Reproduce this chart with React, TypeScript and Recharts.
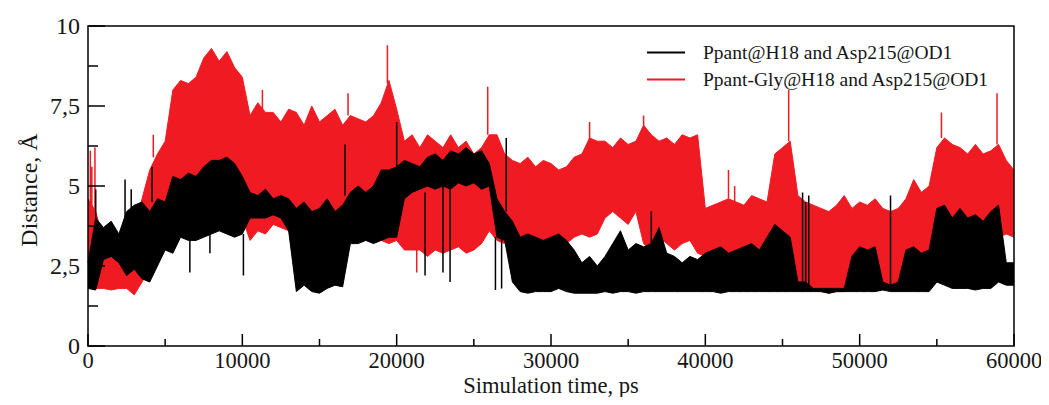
import React from 'react';
import { ComposedChart, Area, Line, XAxis, YAxis, ReferenceArea, Legend } from 'recharts';

// Core envelopes (min / max of the dense trace) read every 500 ps
const redLow = [
  1.8, 1.8, 1.8, 1.75, 1.8, 1.8, 1.6, 2.0, 2.4, 2.8,
  3.0, 3.6, 4.0, 4.2, 4.3, 4.2, 4.4, 4.3, 4.5, 4.2,
  4.0, 3.3, 3.6, 3.5, 3.8, 3.7, 3.6, 3.2, 3.3, 3.2,
  3.3, 3.1, 3.4, 3.1, 3.3, 3.5, 3.7, 3.4, 3.3, 3.2,
  3.3, 3.0, 3.0, 3.0, 2.8, 3.0, 2.9, 3.0, 3.1, 2.9,
  3.0, 3.2, 3.6, 3.3, 3.2, 3.3, 3.2, 3.3, 3.2, 3.3,
  3.2, 3.3, 3.2, 3.4, 3.5, 3.4, 3.5, 4.0, 4.2, 4.0,
  3.8, 4.2, 3.2, 3.0, 3.4, 3.2, 3.0, 3.2, 3.3, 2.9,
  2.8, 2.8, 2.8, 2.9, 2.8, 2.8, 2.9, 2.8, 2.7, 3.1,
  3.2, 3.1, 1.9, 1.85, 1.8, 1.7, 1.65, 1.7, 1.7, 2.5,
  2.9, 2.8, 2.9, 1.8, 1.75, 1.8, 2.6, 2.5, 2.7, 2.5,
  2.9, 2.9, 3.0, 3.3, 3.4, 3.2, 3.4, 3.3, 3.4, 3.5,
  3.4,
];
const redHigh = [
  4.6, 4.2, 3.3, 3.0, 3.2, 3.4, 3.5, 4.6, 5.5, 6.0,
  6.4, 8.0, 8.3, 8.2, 8.4, 9.0, 9.3, 8.9, 9.2, 8.7,
  8.4, 7.2, 7.6, 7.3, 7.3, 7.0, 7.4, 7.3, 6.9, 7.5,
  7.0, 7.2, 7.4, 6.9, 7.2, 7.1, 7.0, 7.2, 7.6, 8.3,
  7.4, 6.4, 6.6, 6.2, 6.6, 6.4, 6.2, 6.6, 6.2, 6.4,
  6.0, 6.2, 6.6, 6.6, 6.0, 5.8, 5.7, 5.9, 5.6, 5.8,
  5.7, 5.5, 5.6, 5.9, 6.0, 6.5, 6.4, 6.4, 6.2, 6.5,
  6.3, 6.4, 6.9, 6.6, 6.4, 6.5, 6.3, 6.6, 6.5, 6.6,
  4.3, 4.4, 4.5, 4.6, 4.5, 4.4, 4.7, 4.6, 4.5, 6.0,
  6.2, 6.4, 4.7, 4.5, 4.4, 4.3, 4.2, 4.4, 4.7, 4.3,
  4.5, 4.4, 4.6, 4.3, 4.2, 4.3, 4.6, 5.2, 4.8, 5.0,
  6.2, 6.5, 6.3, 6.2, 6.0, 6.3, 6.0, 6.1, 6.3, 5.8,
  5.5,
];
const blackLow = [
  1.8, 1.75, 2.7, 2.8, 2.6, 2.2, 2.4, 2.1, 2.0, 2.5,
  3.0, 2.9, 3.4, 3.3, 3.3, 3.4, 3.5, 3.6, 3.5, 3.4,
  3.5, 4.0, 4.0, 4.0, 4.1, 4.0, 3.6, 1.7, 1.9, 1.7,
  1.65, 1.8, 1.9, 1.85, 3.2, 3.2, 3.3, 3.2, 3.3, 3.4,
  3.4, 4.6, 4.8, 4.9, 5.0, 4.9, 5.0, 4.9, 5.1, 5.0,
  5.1, 4.9, 5.0, 3.4, 3.3, 2.0, 1.7, 1.65, 1.7, 1.7,
  1.7, 1.8, 1.7, 1.65, 1.65, 1.65, 1.65, 1.7, 1.65, 1.7,
  1.7, 1.65, 1.7, 1.7, 1.7, 1.7, 1.7, 1.7, 1.7, 1.7,
  1.7, 1.7, 1.65, 1.7, 1.7, 1.7, 1.7, 1.7, 1.7, 1.7,
  1.7, 1.7, 1.7, 1.7, 1.7, 1.7, 1.65, 1.7, 1.7, 1.7,
  1.7, 1.7, 1.7, 1.75, 1.7, 1.7, 1.7, 1.7, 1.7, 1.7,
  2.0, 1.9, 1.8, 1.8, 1.8, 1.75, 1.8, 1.8, 2.0, 1.9,
  1.9,
];
const blackHigh = [
  2.6, 4.0, 3.7, 3.9, 3.5, 4.2, 4.4, 4.5, 4.2, 4.6,
  4.5, 5.3, 5.2, 5.4, 5.3, 5.6, 5.8, 5.8, 5.9, 5.7,
  5.3, 4.8, 4.7, 4.9, 4.6, 4.7, 4.6, 4.3, 4.5, 4.2,
  4.3, 4.6, 4.2, 4.4, 4.8, 5.0, 4.8, 5.0, 5.5, 5.5,
  5.6, 5.8, 5.7, 5.6, 5.9, 6.0, 5.8, 6.1, 6.0, 6.2,
  6.0, 6.1, 5.7, 4.6, 4.2, 3.9, 3.4, 3.5, 3.4, 3.3,
  3.4, 3.5, 3.3, 3.0, 2.6, 2.8, 2.5, 2.8, 3.2, 3.6,
  3.0, 3.2, 3.1, 3.2, 3.7, 2.9, 2.8, 2.6, 2.8, 2.7,
  2.9, 3.0, 3.1, 2.9, 3.0, 3.1, 3.2, 3.0, 3.4, 3.8,
  3.6, 3.4, 2.0, 2.0, 1.8, 1.8, 1.8, 1.8, 1.8, 2.8,
  3.1, 3.0, 3.1, 2.0, 1.9, 2.0, 3.0, 3.1, 2.9, 3.0,
  4.3, 4.4, 4.0, 4.3, 4.0, 4.1, 3.9, 4.2, 4.4, 2.6,
  2.6,
];

// Isolated spikes of each trace: time (ps), where it leaves the core, its tip
const redSpikeTimes = [150, 250, 450, 4230, 11300, 16850, 19400, 21300, 25900, 32500, 36000, 41500, 41900, 45400, 55300, 58900];
const redSpikeFrom = [4.4, 4.3, 4.2, 5.9, 7.3, 7.2, 8.2, 3.0, 6.6, 6.4, 6.8, 4.6, 4.5, 6.4, 6.5, 6.3];
const redSpikeTo = [6.1, 5.6, 6.2, 6.6, 8.0, 7.9, 9.4, 2.3, 8.1, 7.0, 7.2, 5.5, 5.0, 8.0, 7.3, 7.9];

const blackSpikeTimes = [500, 2400, 2800, 4150, 6600, 7900, 10070, 16650, 20000, 21840, 23000, 23460, 26400, 26800, 27100, 36500, 46300, 46500, 46700, 52000];
const blackSpikeFrom = [3.8, 4.0, 4.2, 4.5, 3.3, 3.5, 3.5, 4.7, 5.6, 4.8, 5.0, 4.9, 3.4, 3.5, 4.2, 3.2, 1.9, 1.9, 1.9, 1.9];
const blackSpikeTo = [4.9, 5.2, 4.9, 5.6, 2.3, 2.9, 2.2, 6.3, 7.0, 2.2, 2.3, 2.0, 1.75, 1.8, 6.5, 4.2, 4.8, 4.5, 4.7, 4.7];

const TIME_STEP_PS = 500;
const timePs = redLow.map((_, i) => i * TIME_STEP_PS);

const xTicks = [0, 5000, 10000, 15000, 20000, 25000, 30000, 35000, 40000, 45000, 50000, 55000, 60000];
const xMajorLabels = ['0', '10000', '20000', '30000', '40000', '50000', '60000'];
const yTicks = [0, 1.25, 2.5, 3.75, 5, 6.25, 7.5, 8.75, 10];
const yMajorLabels = ['0', '2,5', '5', '7,5', '10'];
const seriesNames = ['Ppant@H18 and Asp215@OD1', 'Ppant-Gly@H18 and Asp215@OD1'];
const xTitle = 'Simulation time, ps';
const yTitle = 'Distance, Å';

const BLACK = '#000000';
const RED = '#f01b22';
const FONT = '"Liberation Serif", "Times New Roman", serif';
const TEXT = '#161616';

const data = timePs.map((t, i) => ({
  t,
  red: [redLow[i], redHigh[i]],
  black: [blackLow[i], blackHigh[i]],
}));

const spikeRows = (times: number[], from: number[], to: number[]) =>
  times.flatMap((t, i) => [
    { t, v: from[i] },
    { t, v: to[i] },
    { t, v: null },
  ]);
const redSpikes = spikeRows(redSpikeTimes, redSpikeFrom, redSpikeTo);
const blackSpikes = spikeRows(blackSpikeTimes, blackSpikeFrom, blackSpikeTo);

const XTick = (props: any) => {
  const { x, y, payload } = props;
  const v = payload.value as number;
  const major = v % 10000 === 0;
  const label = major ? xMajorLabels[Math.round(v / 10000)] : null;
  return (
    <g>
      <line x1={x} x2={x} y1={y} y2={y - (major ? 12 : 7)} stroke="#000" strokeWidth={1.5} />
      {label !== null && (
        <text x={x} y={y + 22} textAnchor="middle" fontSize={22.5} fontFamily={FONT} fill={TEXT}>
          {label}
        </text>
      )}
    </g>
  );
};

const YTick = (props: any) => {
  const { x, y, payload } = props;
  const v = payload.value as number;
  const major = Math.abs(v / 2.5 - Math.round(v / 2.5)) < 1e-6;
  const label = major ? yMajorLabels[Math.round(v / 2.5)] : null;
  return (
    <g>
      <line x1={x} x2={x + (major ? 17 : 10)} y1={y} y2={y} stroke="#000" strokeWidth={1.5} />
      {label !== null && (
        <text x={x - 8} y={y + 8} textAnchor="end" fontSize={24} fontFamily={FONT} fill={TEXT}>
          {label}
        </text>
      )}
    </g>
  );
};

const XTitle = (props: any) => {
  const vb = props.viewBox || { x: 80, y: 344, width: 926, height: 51 };
  return (
    <text x={vb.x + vb.width / 2} y={vb.y + 46.5} textAnchor="middle" fontSize={22.5} fontFamily={FONT} fill={TEXT}>
      {xTitle}
    </text>
  );
};

const YTitle = (props: any) => {
  const vb = props.viewBox || { x: 0, y: 24, width: 80, height: 320 };
  const cx = vb.x + 29;
  const cy = vb.y + vb.height / 2 + 4;
  return (
    <text transform={`translate(${cx},${cy}) rotate(-90)`} textAnchor="middle" fontSize={24} fontFamily={FONT} fill={TEXT}>
      {yTitle}
    </text>
  );
};

const LegendContent = () => {
  const colors = [BLACK, RED];
  return (
    <div style={{ fontFamily: FONT, fontSize: 19.5, color: TEXT }}>
      {seriesNames.map((name, i) => (
        <div key={name} style={{ display: 'flex', alignItems: 'center', height: 27, whiteSpace: 'nowrap' }}>
          <svg width={56} height={27} style={{ display: 'block' }}>
            <line x1={0} x2={38} y1={13.5} y2={13.5} stroke={colors[i]} strokeWidth={2} />
          </svg>
          <span style={{ lineHeight: '27px' }}>{name}</span>
        </div>
      ))}
    </div>
  );
};

export default function App() {
  return (
    <div style={{ width: 1036, height: 395, marginTop: -6 }}>
      <ComposedChart
        width={1036}
        height={395}
        data={data}
        margin={{ top: 24, right: 30, left: 0, bottom: 0 }}
      >
        <XAxis
          dataKey="t"
          type="number"
          domain={[0, 60000]}
          ticks={xTicks}
          interval={0}
          tickSize={0}
          tickMargin={0}
          tickLine={false}
          axisLine={false}
          height={51}
          tick={<XTick />}
          label={<XTitle />}
        />
        <YAxis
          type="number"
          domain={[0, 10]}
          ticks={yTicks}
          interval={0}
          tickSize={0}
          tickMargin={0}
          tickLine={false}
          axisLine={false}
          width={80}
          tick={<YTick />}
          label={<YTitle />}
        />
        <Area
          dataKey="red"
          name={seriesNames[1]}
          type="linear"
          stroke={RED}
          strokeWidth={1}
          fill={RED}
          fillOpacity={1}
          dot={false}
          activeDot={false}
          isAnimationActive={false}
        />
        <Line
          data={redSpikes}
          dataKey="v"
          type="linear"
          stroke={RED}
          strokeWidth={1.5}
          dot={false}
          activeDot={false}
          legendType="none"
          isAnimationActive={false}
        />
        <Area
          dataKey="black"
          name={seriesNames[0]}
          type="linear"
          stroke={BLACK}
          strokeWidth={1}
          fill={BLACK}
          fillOpacity={1}
          dot={false}
          activeDot={false}
          isAnimationActive={false}
        />
        <Line
          data={blackSpikes}
          dataKey="v"
          type="linear"
          stroke={BLACK}
          strokeWidth={1.5}
          dot={false}
          activeDot={false}
          legendType="none"
          isAnimationActive={false}
        />
        <ReferenceArea
          x1={0}
          x2={60000}
          y1={0}
          y2={10}
          fill="none"
          fillOpacity={0}
          stroke="#000"
          strokeWidth={1.5}
          ifOverflow="visible"
        />
        <Legend
          layout="horizontal"
          align="center"
          verticalAlign="middle"
          content={<LegendContent />}
          wrapperStyle={{ left: 639, top: 37, width: 360 }}
        />
      </ComposedChart>
    </div>
  );
}
